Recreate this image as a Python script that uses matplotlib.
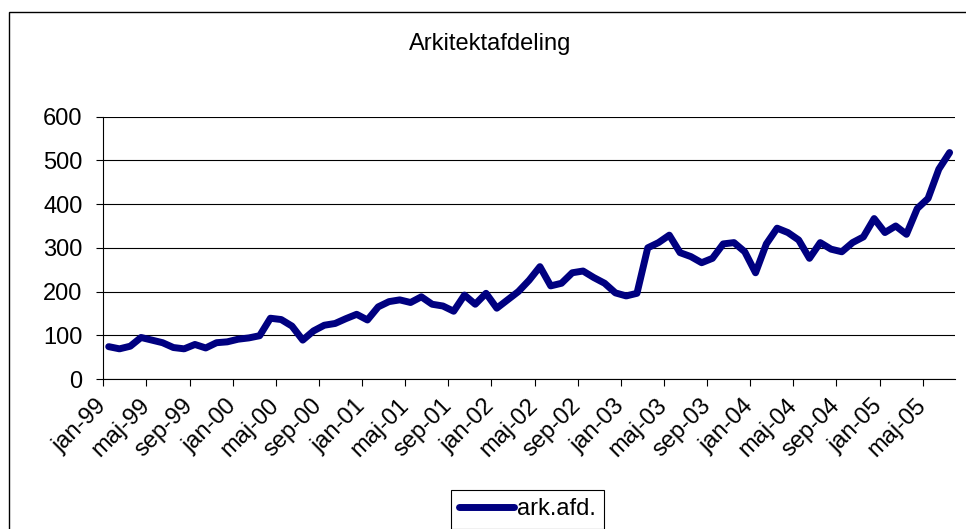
import matplotlib
matplotlib.use("Agg")
import matplotlib.pyplot as plt
from matplotlib.patches import Rectangle

# månedlige værdier jan-99 .. jul-05
maaneder = ["jan", "feb", "mar", "apr", "maj", "jun", "jul", "aug", "sep", "okt", "nov", "dec"]
aar = ["99", "00", "01", "02", "03", "04", "05"]
kategorier = [m + "-" + a for a in aar for m in maaneder][:79]

ark_afd = [74, 69, 75, 95, 89, 83, 72, 69, 79, 71, 83, 85,
           91, 94, 99, 139, 136, 121, 89, 110, 123, 127, 138, 148,
           135, 165, 177, 181, 175, 188, 171, 167, 155, 192, 171, 196,
           162, 181, 200, 226, 257, 213, 219, 243, 247, 232, 219, 197,
           190, 196, 300, 312, 329, 289, 280, 266, 276, 309, 312, 291,
           243, 309, 345, 335, 318, 276, 312, 297, 291, 312, 325, 367,
           335, 350, 331, 390, 413, 480, 518]

y_ticks = [0, 100, 200, 300, 400, 500, 600]

plt.rcParams['font.family'] = ['Liberation Sans', 'DejaVu Sans']

fig = plt.figure(figsize=(9.66, 5.29), dpi=100)
ax = fig.add_axes([103.3 / 966, 1 - 379 / 529, (955 - 103.3) / 966, (379 - 116.7) / 529])

x_pos = list(range(len(ark_afd)))
ax.plot(x_pos, ark_afd, color='#000080', linewidth=5, solid_joinstyle='round',
        solid_capstyle='round', label='ark.afd.', zorder=3)

ax.set_xlim(-0.5, len(ark_afd) - 0.5)
ax.set_ylim(0, 600)
ax.set_yticks(y_ticks)
ax.yaxis.grid(True, color='black', linewidth=0.8)
ax.set_axisbelow(True)

tick_pos = [i - 0.5 for i in range(0, len(ark_afd), 4)]
tick_lab = [kategorier[i] for i in range(0, len(ark_afd), 4)]
ax.set_xticks(tick_pos)
ax.set_xticklabels(tick_lab, rotation=45, ha='right', va='center', rotation_mode='anchor')

ax.tick_params(axis='both', direction='out', length=5, width=0.8, labelsize=17)
ax.tick_params(axis='y', pad=10)
ax.tick_params(axis='x', pad=12)

for s in ['top', 'right']:
    ax.spines[s].set_visible(False)
for s in ['left', 'bottom']:
    ax.spines[s].set_linewidth(0.8)

fig.text(490 / 966, 1 - 44 / 529, "Arkitektafdeling", ha='center', va='center', fontsize=17)

leg = fig.legend(loc='upper left', bbox_to_anchor=(451 / 966, 1 - 490 / 529), fontsize=17,
                 handlelength=2.3, handletextpad=0.15, borderpad=0.35, borderaxespad=0,
                 fancybox=False, framealpha=1, edgecolor='black')
leg.get_frame().set_linewidth(0.8)

# ramme om diagrammet
fig.patches.append(Rectangle((8.5 / 966, -0.2), 1.2, 1.2 - 12 / 529, transform=fig.transFigure,
                             fill=False, edgecolor='black', linewidth=1))

fig.savefig("out.png", dpi=100)
